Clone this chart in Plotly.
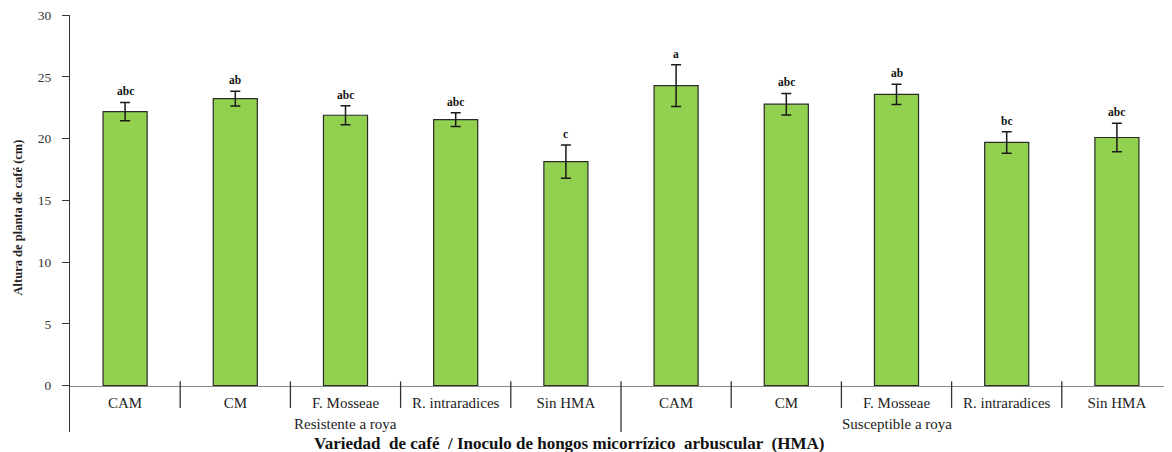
import plotly.graph_objects as go

categories = ["CAM", "CM", "F. Mosseae", "R. intraradices", "Sin HMA",
              "CAM", "CM", "F. Mosseae", "R. intraradices", "Sin HMA"]
groups = ["Resistente a roya", "Susceptible a roya"]
heights = [22.2, 23.25, 21.9, 21.55, 18.15, 24.3, 22.8, 23.6, 19.7, 20.1]
errors = [0.74, 0.6, 0.77, 0.55, 1.35, 1.7, 0.87, 0.82, 0.87, 1.15]
letters = ["abc", "ab", "abc", "abc", "c", "a", "abc", "ab", "bc", "abc"]
yticks = [0, 5, 10, 15, 20, 25, 30]

xs = list(range(len(categories)))
SERIF = "Liberation Serif"
YMIN = -3.75
YMAX = 30.02

fig = go.Figure()
fig.add_trace(go.Bar(
    x=xs, y=heights, width=0.4,
    marker=dict(color="#92D050", line=dict(color="#2b2b2b", width=1.2)),
    error_y=dict(type="data", array=errors, visible=True,
                 color="#1a1a1a", thickness=1.5, width=5),
    showlegend=False,
))

annotations = []
for x, h, e, t in zip(xs, heights, errors, letters):
    annotations.append(dict(x=x, y=h + e, xref="x", yref="y", text=f"<b>{t}</b>",
                            showarrow=False, yanchor="bottom", yshift=3,
                            font=dict(family=SERIF, size=11.5, color="#111")))
# group labels
n_per = len(categories) // len(groups)
for gi, g in enumerate(groups):
    annotations.append(dict(x=gi * n_per + (n_per - 1) / 2, y=-3.1, xref="x", yref="y",
                            text=g, showarrow=False, yanchor="middle",
                            font=dict(family=SERIF, size=15, color="#222")))
# x title
annotations.append(dict(x=0.453, y=-0.028, xref="paper", yref="paper",
                        text="<b>Variedad  de café  / Inoculo de hongos micorrízico  arbuscular  (HMA)</b>",
                        showarrow=False, yanchor="middle",
                        font=dict(family=SERIF, size=17, color="#111")))
# y title
annotations.append(dict(x=-0.047, y=0.515, xref="paper", yref="paper",
                        text="<b>Altura de planta de café (cm)</b>", textangle=-90,
                        showarrow=False, xanchor="center", yanchor="middle",
                        font=dict(family=SERIF, size=12.5, color="#222")))

shapes = []
for k in range(1, len(categories)):
    b = k - 0.5
    long = (k % n_per == 0)
    shapes.append(dict(type="line", xref="x", yref="y", x0=b, x1=b,
                       y0=0.35, y1=(YMIN if long else -1.8),
                       line=dict(color="#333", width=1.3)))

fig.update_layout(
    width=1164, height=444,
    margin=dict(l=62, r=0, t=7, b=20),
    plot_bgcolor="white", paper_bgcolor="white",
    annotations=annotations, shapes=shapes,
    xaxis=dict(range=[-0.5, 9.5], tickvals=xs, ticktext=categories,
               showline=True, linecolor="#888", linewidth=1.3,
               anchor="free", position=-YMIN / (YMAX - YMIN),
               ticks="", showgrid=False, zeroline=False, ticklabelstandoff=3,
               tickfont=dict(family=SERIF, size=15, color="#222")),
    yaxis=dict(range=[YMIN, YMAX], tickvals=yticks, showline=True,
               linecolor="#333", linewidth=1.3, ticks="outside", ticklen=7,
               tickcolor="#333", showgrid=False, zeroline=False,
               ticklabeloverflow="allow",
               tickfont=dict(family=SERIF, size=13.5, color="#333"),
               ticklabelstandoff=8),
)

fig.write_html("out.html")
